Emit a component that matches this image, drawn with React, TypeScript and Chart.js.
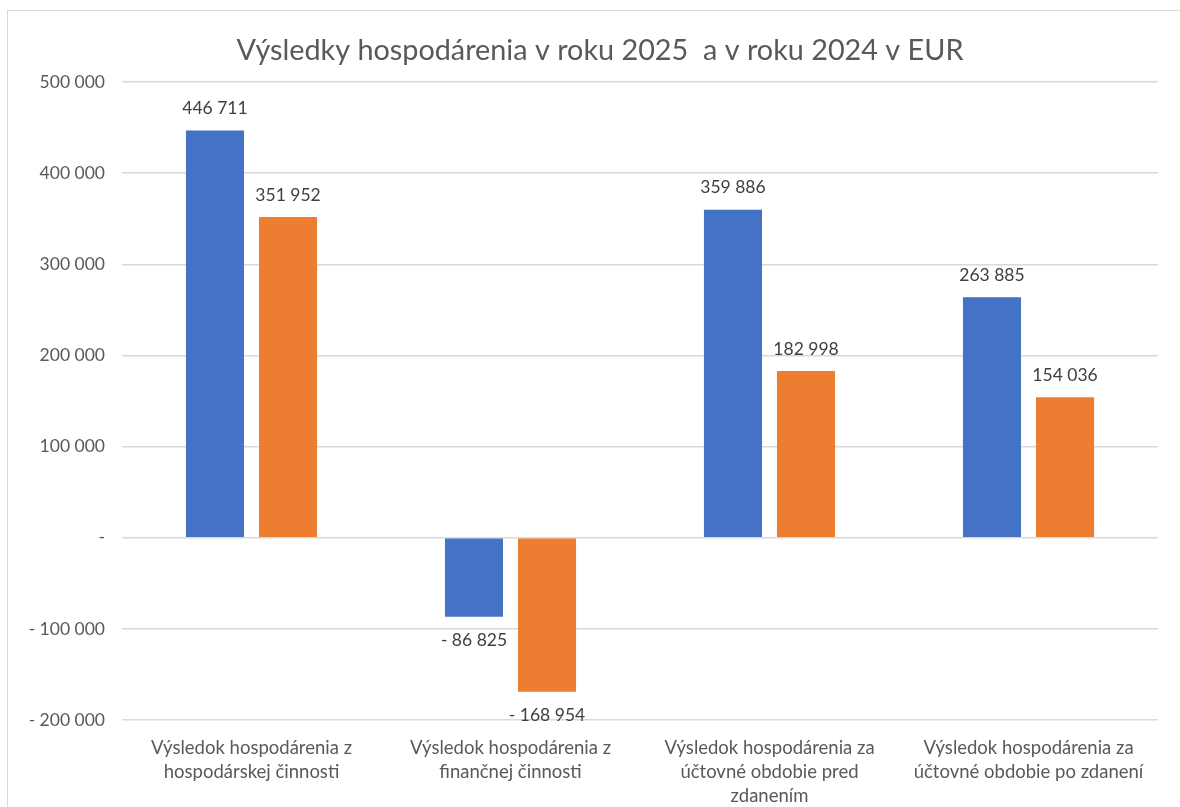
import React, { useEffect, useRef } from "react";
import { Chart, registerables } from "chart.js";

Chart.register(...registerables);

const titleText = "Výsledky hospodárenia v roku 2025  a v roku 2024 v EUR";
const categories: string[][] = [
  ["Výsledok hospodárenia z", "hospodárskej činnosti"],
  ["Výsledok hospodárenia z", "finančnej činnosti"],
  ["Výsledok hospodárenia za", "účtovné obdobie pred", "zdanením"],
  ["Výsledok hospodárenia za", "účtovné obdobie po zdanení"],
];
const seriesNames = ["2025", "2024"];
const series2025 = [446711, -86825, 359886, 263885];
const series2024 = [351952, -168954, 182998, 154036];
const yMin = -200000;
const yMax = 500000;
const yStep = 100000;

const FONT = "Lato, 'Open Sans', sans-serif";
const TEXT = "#595959";
const LABEL = "#404040";

function fmt(v: number): string {
  if (v === 0) return "-";
  const s = Math.abs(Math.round(v))
    .toString()
    .replace(/\B(?=(\d{3})+(?!\d))/g, " ");
  return v < 0 ? "- " + s : s;
}

const dataLabelPlugin = {
  id: "dataLabels",
  afterLayout(chart: any) {
    // Shift the title block so it is centred over the whole chart frame
    const tb = chart.titleBlock;
    if (tb) {
      tb.left += 17;
      tb.right += 17;
    }
  },
  afterDatasetsDraw(chart: any) {
    const ctx = chart.ctx;
    ctx.save();
    ctx.font = `17.5px ${FONT}`;
    ctx.fillStyle = LABEL;
    ctx.textAlign = "center";
    ctx.textBaseline = "middle";
    chart.data.datasets.forEach((ds: any, i: number) => {
      const meta = chart.getDatasetMeta(i);
      meta.data.forEach((el: any, j: number) => {
        const v = ds.data[j] as number;
        const y = v >= 0 ? el.y - 22 : el.y + 24;
        ctx.fillText(fmt(v), el.x, y);
      });
    });
    ctx.restore();
  },
};

export default function App() {
  const ref = useRef<HTMLCanvasElement | null>(null);
  useEffect(() => {
    if (!ref.current) return;
    const chart = new Chart(ref.current, {
      type: "bar",
      data: {
        labels: categories,
        datasets: [
          {
            label: seriesNames[0],
            data: series2025,
            backgroundColor: "#4472C4",
            categoryPercentage: 0.564,
            barPercentage: 0.795,
          },
          {
            label: seriesNames[1],
            data: series2024,
            backgroundColor: "#ED7D31",
            categoryPercentage: 0.564,
            barPercentage: 0.795,
          },
        ],
      },
      options: {
        animation: false,
        responsive: false,
        maintainAspectRatio: false,
        layout: { padding: { left: 0, right: 22, top: 0, bottom: 0 } },
        plugins: {
          legend: { display: false },
          tooltip: { enabled: false },
          title: {
            display: true,
            text: titleText,
            color: TEXT,
            font: { family: FONT, size: 28.8, weight: "normal" as any, lineHeight: 1.2 },
            padding: { top: 22, bottom: 14.5 },
          },
        },
        scales: {
          x: {
            grid: { display: false, drawTicks: false },
            border: { display: false },
            ticks: {
              color: TEXT,
              font: { family: FONT, size: 18.5, lineHeight: 1.3 },
              padding: 16,
              maxRotation: 0,
              autoSkip: false,
            },
            afterFit(scale: any) {
              scale.height = 87;
            },
          },
          y: {
            min: yMin,
            max: yMax,
            grid: { color: "#d9d9d9", lineWidth: 1.5, drawTicks: false },
            border: { display: false },
            ticks: {
              stepSize: yStep,
              color: TEXT,
              font: { family: FONT, size: 17.5 },
              padding: 17,
              callback: (v: any) => fmt(Number(v)),
            },
            afterFit(scale: any) {
              scale.width = 114;
            },
          },
        },
      },
      plugins: [dataLabelPlugin],
    });
    return () => chart.destroy();
  }, []);

  return (
    <div
      style={{
        position: "fixed",
        left: 7,
        top: 10,
        width: 1173,
        height: 797,
        borderLeft: "1.5px solid #d9d9d9",
        borderTop: "1.5px solid #d9d9d9",
        background: "#fff",
        boxSizing: "border-box",
      }}
    >
      <canvas ref={ref} width={1172} height={796} style={{ display: "block" }} />
    </div>
  );
}
